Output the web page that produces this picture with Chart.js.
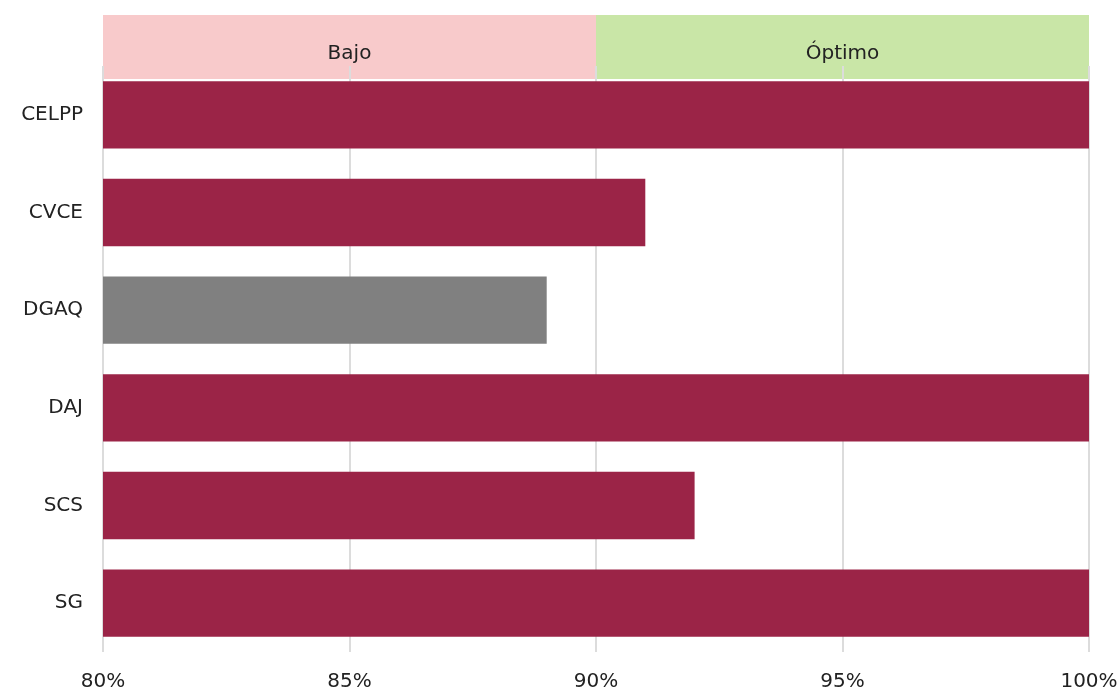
<!DOCTYPE html>
<html>
<head>
<meta charset="utf-8">
<script src="https://cdn.jsdelivr.net/npm/chart.js@4.4.0/dist/chart.umd.min.js"></script>
<style>
  html, body { margin: 0; padding: 0; background: #fff; }
  #wrap { width: 1119px; height: 687px; }
</style>
</head>
<body>
<div id="wrap"><canvas id="chart"></canvas></div>
<script>
// categories and values (percent)
var categories = ['CELPP', 'CVCE', 'DGAQ', 'DAJ', 'SCS', 'SG'];
var values = [100, 91, 89, 100, 92, 100];
var barColors = ['#9b2447', '#9b2447', '#808080', '#9b2447', '#9b2447', '#9b2447'];

// performance bands shown above the plot
var bandLabels = ['Bajo', 'Óptimo'];
var bandFrom = [80, 90];
var bandTo = [90, 100];
var bandColors = ['#f8cacb', '#c9e6a7'];

var xTicks = [80, 85, 90, 95, 100];

var fontFamily = "'DejaVu Sans', 'Noto Sans', sans-serif";

// draws the Bajo / Óptimo strip before the grid, so grid lines sit on top
var bandPlugin = {
    id: 'bands',
    beforeDraw: function(chart) {
        var ctx = chart.ctx;
        var x = chart.scales.x;
        var top = 15;
        var bottom = chart.chartArea.top + 13;
        ctx.save();
        ctx.fillStyle = '#fff';
        ctx.fillRect(0, 0, chart.width, chart.height);
        for (var i = 0; i < bandLabels.length; i++) {
            var x0 = x.getPixelForValue(bandFrom[i]);
            var x1 = x.getPixelForValue(bandTo[i]);
            ctx.fillStyle = bandColors[i];
            ctx.fillRect(x0, top, x1 - x0, bottom - top);
            ctx.fillStyle = '#222';
            ctx.font = '20px ' + fontFamily;
            ctx.textAlign = 'center';
            ctx.textBaseline = 'middle';
            ctx.fillText(bandLabels[i], (x0 + x1) / 2, 54);
        }
        ctx.restore();
    }
};

var ctx = document.getElementById('chart').getContext('2d');
var chart = new Chart(ctx, {
    type: 'bar',
    plugins: [bandPlugin],
    data: {
        labels: categories,
        datasets: [
            {
                data: values,
                backgroundColor: barColors,
                borderWidth: 0,
                categoryPercentage: 1.0,
                barPercentage: 0.69,
            },
        ],
    },
    options: {
        indexAxis: 'y',
        responsive: true,
        maintainAspectRatio: false,
        animation: false,
        layout: {
            padding: { top: 66, right: 30, left: 0, bottom: 0 },
        },
        plugins: {
            legend: { display: false },
            tooltip: { enabled: false },
        },
        scales: {
            x: {
                min: 80,
                max: 100,
                afterBuildTicks: function(scale) {
                    scale.ticks = xTicks.map(function(v) { return { value: v }; });
                },
                afterFit: function(scale) {
                    scale.height = 35;
                    scale.paddingLeft = 0;
                    scale.paddingRight = 0;
                },
                grid: {
                    color: '#dcdcdc',
                    lineWidth: 2,
                    drawTicks: false,
                },
                border: { display: false },
                ticks: {
                    padding: 18,
                    color: '#222',
                    font: { family: fontFamily, size: 20 },
                    callback: function(v) { return v + '%'; },
                },
            },
            y: {
                afterFit: function(scale) { scale.width = 103; },
                grid: { display: false, drawTicks: false },
                border: { display: false },
                ticks: {
                    padding: 20,
                    color: '#222',
                    font: { family: fontFamily, size: 20 },
                },
            },
        },
    },
});
</script>
</body>
</html>
